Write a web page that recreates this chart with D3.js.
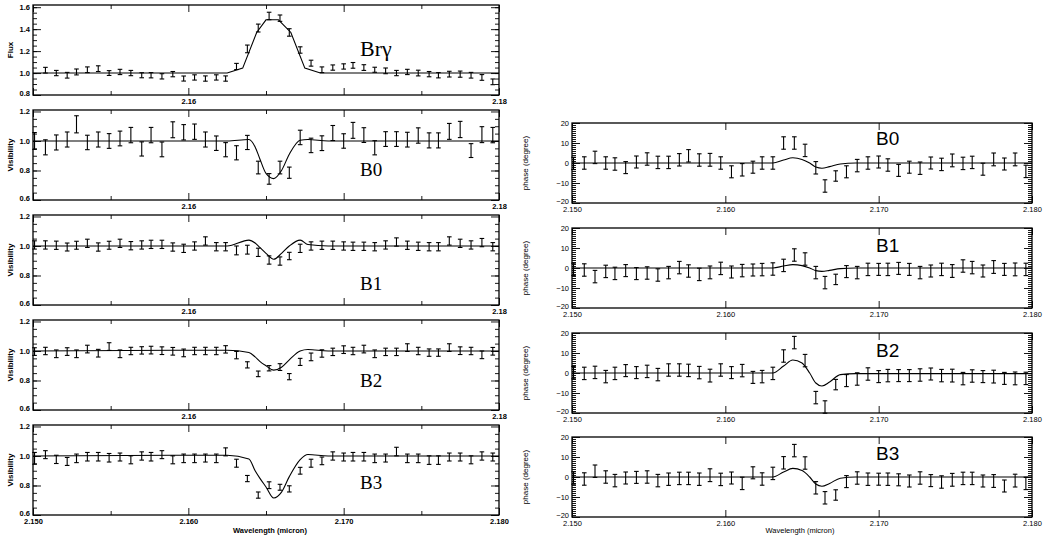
<!DOCTYPE html>
<html>
<head>
<meta charset="utf-8">
<script src="https://cdn.jsdelivr.net/npm/d3@7"></script>
<style>
  body { margin: 0; background: #fff; }
  svg { display: block; }
  .lt text { font-family: "Liberation Sans", Arial, sans-serif; font-size: 7.5px; font-weight: bold; fill: #000; }
  .rt text { font-family: "Liberation Sans", Arial, sans-serif; font-size: 7.5px; fill: #000; }
  .tick line { stroke: #000; stroke-width: 0.9; }
</style>
</head>
<body>
<svg id="chart" width="1045" height="541"></svg>
<script>
// spectral channels (micron)
const wl = [2.1501, 2.1508, 2.1515, 2.1522, 2.1528, 2.1535, 2.1542, 2.1549, 2.1556, 2.1563,
            2.1570, 2.1576, 2.1583, 2.1590, 2.1597, 2.1604, 2.1611, 2.1618, 2.1624, 2.1631,
            2.1638, 2.1645, 2.1652, 2.1659, 2.1665, 2.1672, 2.1679, 2.1686, 2.1693, 2.1700,
            2.1706, 2.1713, 2.1720, 2.1727, 2.1734, 2.1741, 2.1748, 2.1755, 2.1761, 2.1768,
            2.1775, 2.1782, 2.1789, 2.1796];
const fluxWl = wl.slice(1);

const fluxVal = [1.026, 1.0, 0.98, 1.01, 1.03, 1.04, 1.0, 1.01, 1.0, 0.98, 0.98, 0.97, 0.99, 0.95, 0.96,
                 0.95, 0.96, 0.95, 1.06, 1.22, 1.41, 1.52, 1.50, 1.37, 1.21, 1.09, 1.03, 1.05, 1.06, 1.07,
                 1.05, 1.03, 1.02, 1.0, 1.01, 1.0, 0.99, 0.98, 0.99, 0.99, 0.98, 0.96, 0.92];
const fluxErr = [0.026, 0.024, 0.026, 0.027, 0.026, 0.026, 0.022, 0.024, 0.024, 0.023, 0.024, 0.024, 0.024, 0.023, 0.024,
                 0.024, 0.024, 0.024, 0.028, 0.035, 0.036, 0.034, 0.029, 0.034, 0.029, 0.027, 0.026, 0.024, 0.024, 0.026,
                 0.026, 0.023, 0.026, 0.024, 0.024, 0.026, 0.024, 0.024, 0.026, 0.028, 0.026, 0.026, 0.026];

const visB0 = [1.0, 0.957, 0.99, 1.01, 1.113, 0.99, 1.01, 1.0, 1.017, 1.04, 0.946, 1.04, 0.943, 1.076, 1.059,
               1.063, 1.01, 0.985, 0.941, 0.92, 0.99, 0.82, 0.743, 0.82, 0.785, 1.024, 0.97, 0.985, 1.054, 1.0,
               1.072, 1.04, 0.954, 1.013, 1.013, 1.009, 1.037, 1.004, 1.004, 1.065, 1.078, 0.935, 1.043, 1.04];
const errB0 = [0.057, 0.051, 0.051, 0.051, 0.058, 0.049, 0.051, 0.05, 0.05, 0.052, 0.048, 0.052, 0.05, 0.054, 0.052,
               0.052, 0.051, 0.049, 0.048, 0.048, 0.048, 0.043, 0.036, 0.043, 0.038, 0.049, 0.049, 0.05, 0.051, 0.049,
               0.054, 0.05, 0.048, 0.05, 0.05, 0.05, 0.052, 0.051, 0.051, 0.054, 0.055, 0.047, 0.054, 0.052];

const visB1 = [1.007, 1.007, 1.005, 0.993, 1.005, 1.018, 0.993, 1.005, 1.018, 1.002, 1.007, 1.011, 1.011, 0.993, 0.984,
               1.0, 1.034, 0.995, 0.995, 0.97, 0.975, 0.957, 0.905, 0.898, 0.932, 0.984, 1.0, 1.005, 1.005, 1.0,
               0.998, 0.998, 0.995, 1.007, 1.027, 1.005, 0.998, 0.995, 0.995, 1.034, 1.018, 1.007, 1.023, 0.995];
const errB1 = [0.028, 0.028, 0.028, 0.027, 0.027, 0.028, 0.028, 0.027, 0.028, 0.028, 0.028, 0.028, 0.028, 0.028, 0.028,
               0.028, 0.028, 0.028, 0.028, 0.03, 0.03, 0.028, 0.028, 0.028, 0.025, 0.028, 0.028, 0.028, 0.028, 0.028,
               0.028, 0.028, 0.028, 0.028, 0.028, 0.028, 0.028, 0.028, 0.028, 0.028, 0.028, 0.028, 0.028, 0.028];

const visB2 = [0.996, 1.0, 0.981, 0.996, 0.981, 1.013, 0.985, 1.03, 0.981, 1.0, 1.004, 1.006, 1.002, 0.998, 0.987,
               1.0, 1.0, 1.0, 1.011, 0.972, 0.906, 0.845, 0.883, 0.891, 0.826, 0.926, 0.96, 0.983, 0.994, 1.009,
               1.0, 1.013, 0.981, 0.994, 0.994, 1.023, 1.0, 0.989, 0.989, 1.023, 1.002, 1.0, 0.974, 0.998];
const errB2 = [0.026, 0.025, 0.026, 0.026, 0.026, 0.026, 0.026, 0.026, 0.026, 0.025, 0.025, 0.026, 0.026, 0.026, 0.026,
               0.025, 0.025, 0.025, 0.025, 0.025, 0.021, 0.019, 0.018, 0.023, 0.021, 0.024, 0.026, 0.025, 0.025, 0.026,
               0.025, 0.026, 0.026, 0.025, 0.025, 0.026, 0.025, 0.025, 0.025, 0.026, 0.026, 0.025, 0.026, 0.026];

const visB3 = [0.984, 1.009, 0.977, 0.963, 0.984, 0.995, 0.995, 0.988, 0.993, 0.974, 1.0, 0.995, 1.009, 0.974, 0.984,
               0.984, 0.986, 0.984, 1.028, 0.951, 0.847, 0.735, 0.802, 0.788, 0.777, 0.9, 0.951, 0.967, 1.0, 0.993,
               0.995, 0.995, 0.984, 0.986, 1.03, 0.984, 0.984, 0.972, 0.972, 0.993, 0.993, 0.974, 1.0, 0.993];
const errB3 = [0.04, 0.027, 0.028, 0.027, 0.029, 0.029, 0.029, 0.029, 0.027, 0.027, 0.028, 0.029, 0.027, 0.027, 0.029,
               0.029, 0.027, 0.029, 0.027, 0.027, 0.021, 0.021, 0.023, 0.02, 0.021, 0.023, 0.027, 0.026, 0.028, 0.027,
               0.029, 0.029, 0.029, 0.027, 0.029, 0.029, 0.029, 0.029, 0.029, 0.027, 0.027, 0.027, 0.028, 0.027];

const phB0 = [-0.2, 0, 2.8, 0, -0.5, -2.3, 0.5, 2, 0.3, 0.3, 1.6, 3.6, 1.5, 1.6, 0,
              -4.4, -3.4, -2.1, 0, 0, 10, 10, 6.3, -2.4, -11.5, -6.5, -4.4, -1.3, 0, 0.5,
              -1, -3.7, -2.1, -2.6, 0, -0.7, 1.3, -0.2, 0.3, -3.1, 1.8, -0.5, 1.8, -4.2];
const phB1 = [-0.7, -1, -4.3, -1.7, -2.7, -1.3, -2.8, -2.5, -3.5, -2.3, 0.2, -1.5, -3.2, -2.2, -0.2,
              -2, -1.3, -1, -0.8, -0.5, 1.3, 6.5, 4.5, -2.3, -7.3, -5.7, -1.8, -2.3, -0.7, -0.7,
              -0.7, -0.2, -0.7, -2.3, -1.5, -0.7, -1.5, 1, 0.2, -1.5, 0.5, -0.7, -0.7, -0.7];
const phB2 = [0.2, -0.2, 0.3, -1.8, -0.2, 1.2, 0.2, 0.8, -0.8, 1.5, 1.5, 1.3, 0.2, -1.3, 1.5,
              0.2, 1.2, -2.2, -1.8, -0.2, 8.5, 15.2, 6.2, -12.3, -17, -5.8, -3.8, -3, -0.5, -1.8,
              -1.3, -1.3, -1.3, -1, -0.5, -1.3, -1.3, -2.8, -1.5, -1.8, -1.8, -2.7, -2.7, -2.7];
const phB3 = [-0.5, -1, 2.9, 0, -1.8, -0.5, -0.2, 0, -1.8, -1.1, -0.7, -0.7, -1.1, 0.9, -1.2,
              -0.5, -3.2, 2.1, -1, 1.8, 7.1, 13.2, 7, -5.4, -10.4, -9, -2.3, -0.5, -1.1, -1.1,
              -1.1, -1.4, -2, -0.5, -1.8, -2.5, -1.4, -0.7, -0.7, -2, -2, -4.5, -1.8, -3.2];
const phErr = [3.1, 3.1, 3.1, 3.1, 3.1, 3.0, 3.0, 3.1, 3.1, 3.1, 3.1, 3.1, 3.1, 3.2, 3.1,
               3.0, 3.1, 3.0, 3.1, 3.1, 3.1, 3.1, 3.1, 3.1, 3.1, 2.6, 3.0, 3.1, 3.1, 3.0,
               3.1, 3.0, 3.0, 3.1, 3.0, 3.1, 3.2, 3.1, 3.1, 3.0, 3.2, 3.0, 3.2, 3.1];

// model curves
const fluxModelWl = [2.150, 2.1625, 2.1635, 2.1644, 2.1650, 2.1658, 2.1666, 2.1675, 2.1685, 2.180];
const fluxModel   = [1.0, 1.0, 1.045, 1.37, 1.485, 1.485, 1.37, 1.045, 1.0, 1.0];

const visModelWl = [2.150, 2.1625, 2.1639, 2.1643, 2.1646, 2.1650, 2.1655, 2.1660, 2.1665, 2.1672, 2.1677, 2.1690, 2.180];
const visModelB0 = [1.0, 1.0, 1.01, 0.96, 0.88, 0.78, 0.745, 0.8, 0.91, 1.005, 1.01, 1.0, 1.0];
const visModelB1 = [1.0, 1.0, 1.04, 1.02, 0.99, 0.95, 0.91, 0.95, 1.0, 1.04, 1.01, 1.0, 1.0];
const visModelB2 = [1.0, 1.005, 0.99, 0.96, 0.93, 0.9, 0.87, 0.89, 0.94, 1.0, 1.01, 1.0, 1.0];
const visModelB3 = [1.0, 1.005, 0.98, 0.9, 0.85, 0.79, 0.715, 0.755, 0.86, 0.975, 1.01, 1.0, 1.0];

const phModelWl = [2.150, 2.1631, 2.1638, 2.1644, 2.1650, 2.1655, 2.1659, 2.1663, 2.1668, 2.1675, 2.1685, 2.180];
const phModelB0 = [0, 0, 1.5, 2.6, 1.8, 0, -2.0, -2.6, -1.8, -0.5, 0, 0];
const phModelB1 = [0, 0, 1.0, 1.7, 1.2, 0, -1.3, -1.7, -1.2, -0.3, 0, 0];
const phModelB2 = [0, 0, 3.5, 6.5, 5.0, 0, -5.0, -6.5, -4.5, -0.8, -0.3, -0.3];
const phModelB3 = [0, 0, 2.5, 4.3, 3.2, 0, -3.5, -4.6, -3.2, -0.6, 0, 0];

const svg = d3.select('#chart');

const xL = d3.scaleLinear().domain([2.150, 2.180]).range([33, 499]);
const xR = d3.scaleLinear().domain([2.150, 2.180]).range([572, 1032]);

function drawFrame(x, y, cls, o) {
  const [x0, x1] = x.range();
  const [yb, yt] = y.range();   // bottom, top
  const g = svg.append('g').attr('class', cls);

  // y ticks, left (labelled) and right
  g.append('g').attr('transform', `translate(${x0},0)`)
    .call(d3.axisLeft(y).tickValues(o.yMinor).tickSize(-4).tickFormat(''));
  const yl = g.append('g').attr('transform', `translate(${x0},0)`)
    .call(d3.axisLeft(y).tickValues(o.yMajor).tickSize(-8).tickPadding(3).tickFormat(o.yFmt));
  // lowest label nudged up a little so it clears the x labels
  yl.selectAll('text').attr('dy', (d, i) => i === 0 ? '0.05em' : '0.32em');
  g.append('g').attr('transform', `translate(${x1},0)`)
    .call(d3.axisRight(y).tickValues(o.yMinor).tickSize(-4).tickFormat(''));
  g.append('g').attr('transform', `translate(${x1},0)`)
    .call(d3.axisRight(y).tickValues(o.yMajor).tickSize(-8).tickFormat(''));

  // x ticks, bottom (labelled) and top
  g.append('g').attr('transform', `translate(0,${yb})`)
    .call(d3.axisBottom(x).tickValues(o.xMinor).tickSize(-4).tickFormat(''));
  g.append('g').attr('transform', `translate(0,${yb})`)
    .call(d3.axisBottom(x).tickValues(o.xMajor).tickSize(-7).tickPadding(4).tickFormat(o.xFmt));
  g.append('g').attr('transform', `translate(0,${yt})`)
    .call(d3.axisTop(x).tickValues(o.xMinor).tickSize(-4).tickFormat(''));
  g.append('g').attr('transform', `translate(0,${yt})`)
    .call(d3.axisTop(x).tickValues(o.xMajor).tickSize(-7).tickFormat(''));

  g.selectAll('.domain').remove();
  g.append('rect').attr('x', x0).attr('y', yt).attr('width', x1 - x0).attr('height', yb - yt)
    .attr('fill', 'none').attr('stroke', '#000').attr('stroke-width', 1.3);
}

function drawErr(x, y, xs, vals, errs) {
  const pts = vals.map((v, i) => ({ w: xs[i], v: v, e: errs[i] }));
  const g = svg.append('g').attr('stroke', '#000').attr('stroke-width', 1.1);
  g.selectAll('.bar').data(pts).join('line')
    .attr('x1', d => x(d.w)).attr('x2', d => x(d.w))
    .attr('y1', d => y(d.v - d.e)).attr('y2', d => y(d.v + d.e));
  g.selectAll('.capt').data(pts).join('line')
    .attr('x1', d => x(d.w) - 2.3).attr('x2', d => x(d.w) + 2.3)
    .attr('y1', d => y(d.v + d.e)).attr('y2', d => y(d.v + d.e));
  g.selectAll('.capb').data(pts).join('line')
    .attr('x1', d => x(d.w) - 2.3).attr('x2', d => x(d.w) + 2.3)
    .attr('y1', d => y(d.v - d.e)).attr('y2', d => y(d.v - d.e));
}

function drawModel(x, y, xs, vals, curve) {
  const line = d3.line().x(d => x(d[0])).y(d => y(d[1])).curve(curve);
  svg.append('path').datum(xs.map((w, i) => [w, vals[i]]))
    .attr('d', line).attr('fill', 'none').attr('stroke', '#000').attr('stroke-width', 1.1);
}

function yTitle(txt, xp, yp, bold) {
  svg.append('text').attr('transform', `translate(${xp},${yp}) rotate(-90)`)
    .attr('text-anchor', 'middle')
    .style('font-family', '"Liberation Sans", Arial, sans-serif')
    .style('font-size', '8px').style('font-weight', bold ? 'bold' : 'normal')
    .text(txt);
}

function tag(txt, xp, yp, family, size) {
  svg.append('text').attr('x', xp).attr('y', yp)
    .style('font-family', family).style('font-size', size + 'px').text(txt);
}

const fmt2 = d => (Math.abs(d - 2.16) < 1e-6 || Math.abs(d - 2.18) < 1e-6) ? d.toFixed(2) : '';
const xMajorL = [2.150, 2.160, 2.170, 2.180];
const xMinorL = [2.155, 2.165, 2.175];

// left column: flux + visibilities
const leftTops = [5, 110, 215, 320, 425];
const leftH = 90;
const leftSets = [
  { val: fluxVal, err: fluxErr, xs: fluxWl, mw: fluxModelWl, mv: fluxModel, title: 'Flux', label: 'Br\u03b3', dom: [0.8, 1.62] },
  { val: visB0, err: errB0, xs: wl, mw: visModelWl, mv: visModelB0, title: 'Visibility', label: 'B0', dom: [0.6, 1.21] },
  { val: visB1, err: errB1, xs: wl, mw: visModelWl, mv: visModelB1, title: 'Visibility', label: 'B1', dom: [0.6, 1.21] },
  { val: visB2, err: errB2, xs: wl, mw: visModelWl, mv: visModelB2, title: 'Visibility', label: 'B2', dom: [0.6, 1.21] },
  { val: visB3, err: errB3, xs: wl, mw: visModelWl, mv: visModelB3, title: 'Visibility', label: 'B3', dom: [0.6, 1.21] }
];
const leftLabelY = [56, 176, 290, 387, 489];

leftSets.forEach((s, k) => {
  const top = leftTops[k];
  const y = d3.scaleLinear().domain(s.dom).range([top + leftH, top]);
  const last = k === leftSets.length - 1;
  const isFlux = k === 0;
  drawFrame(xL, y, 'lt', {
    yMajor: isFlux ? [0.8, 1.0, 1.2, 1.4, 1.6] : [0.6, 0.8, 1.0, 1.2],
    yMinor: isFlux ? d3.range(0.85, 1.6, 0.05) : d3.range(0.65, 1.2, 0.05),
    yFmt: d3.format('.1f'),
    xMajor: xMajorL, xMinor: xMinorL,
    xFmt: last ? d3.format('.3f') : fmt2
  });
  drawModel(xL, y, s.mw, s.mv, isFlux ? d3.curveLinear : d3.curveMonotoneX);
  drawErr(xL, y, s.xs, s.val, s.err);
  yTitle(s.title, 13, top + leftH / 2, true);
  if (isFlux) tag(s.label, 360, leftLabelY[k], '"Liberation Serif", serif', 22);
  else tag(s.label, 360, leftLabelY[k], '"Liberation Serif", serif', 19);
});

svg.append('text').attr('x', 270).attr('y', 533).attr('text-anchor', 'middle')
  .style('font-family', '"Liberation Sans", Arial, sans-serif').style('font-size', '7.5px')
  .style('font-weight', 'bold').text('Wavelength (micron)');

// right column: phases
const rightTops = [123, 228, 333, 437];
const rightH = 80;
const rightSets = [
  { val: phB0, mv: phModelB0, label: 'B0' },
  { val: phB1, mv: phModelB1, label: 'B1' },
  { val: phB2, mv: phModelB2, label: 'B2' },
  { val: phB3, mv: phModelB3, label: 'B3' }
];
const rightLabelY = [145, 252, 357, 460];

rightSets.forEach((s, k) => {
  const top = rightTops[k];
  const y = d3.scaleLinear().domain([-20, 20]).range([top + rightH, top]);
  drawFrame(xR, y, 'rt', {
    yMajor: [-20, -10, 0, 10, 20],
    yMinor: d3.range(-19, 20, 1),
    yFmt: d3.format('d'),
    xMajor: xMajorL, xMinor: [],
    xFmt: d3.format('.3f')
  });
  drawModel(xR, y, phModelWl, s.mv, d3.curveMonotoneX);
  drawErr(xR, y, wl, s.val, phErr);
  yTitle('phase (degree)', 528, top + rightH / 2, false);
  tag(s.label, 876, rightLabelY[k], '"Liberation Sans", Arial, sans-serif', 19);
});

svg.append('text').attr('x', 800).attr('y', 533).attr('text-anchor', 'middle')
  .style('font-family', '"Liberation Sans", Arial, sans-serif').style('font-size', '7.5px')
  .text('Wavelength (micron)');
</script>
</body>
</html>
